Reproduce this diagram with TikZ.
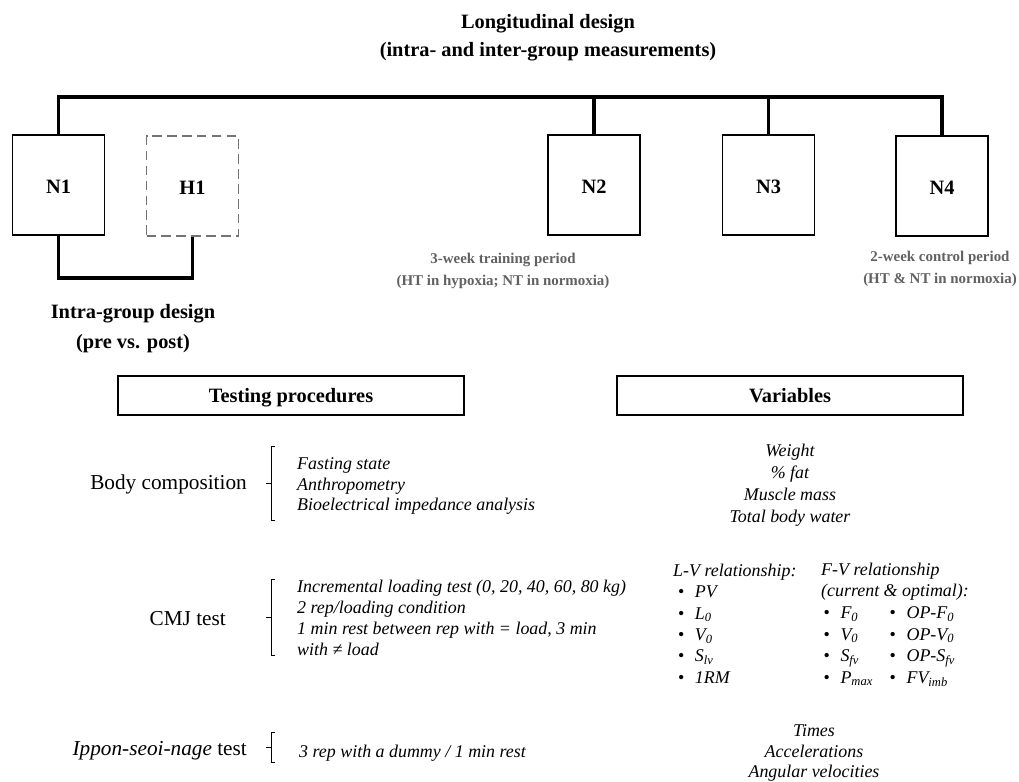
\documentclass[tikz,border=0pt]{standalone}
\usepackage{fontspec}
\setmainfont{Liberation Serif}
\usetikzlibrary{positioning}

\definecolor{notegray}{gray}{0.38}
\definecolor{dashgray}{gray}{0.45}

\newcommand{\vb}{\makebox[9.6pt][l]{\normalfont\textbullet}}
\newcommand{\fvrow}[2]{\hspace*{1.4pt}\vb\makebox[28pt][l]{#1}\vb #2}

\tikzset{
  grp/.style={draw, line width=0.6pt, minimum width=1.84cm, minimum height=2cm,
    text height=2.1ex, text depth=0pt, font=\bfseries\fontsize{11.6}{14}\selectfont},
  grpdash/.style={grp, draw=dashgray, line width=0.8pt, dash pattern=on 5.5pt off 3pt},
  link/.style={line width=2.2pt},
  headbox/.style={draw, line width=0.7pt, minimum width=6.92cm, minimum height=0.78cm,
    text height=2.3ex, text depth=0.5ex, font=\bfseries\fontsize{11.6}{14}\selectfont},
  bighead/.style={align=center, font=\bfseries\fontsize{11.6}{15.9}\selectfont},
  note/.style={align=center, text=notegray, font=\bfseries\fontsize{8.5}{12.4}\selectfont},
  testname/.style={anchor=east, font=\fontsize{12.1}{14}\selectfont},
  items/.style={anchor=west, align=left, font=\itshape\fontsize{10.2}{11.8}\selectfont},
  varlist/.style={align=center, font=\itshape\fontsize{10.2}{12.6}\selectfont},
  brk/.style={line width=0.5pt},
}

\begin{document}
\begin{tikzpicture}[x=0.02cm, y=-0.02cm]
  \useasboundingbox (0,0) rectangle (1019,782);

  % design
  \node[bighead] (title) at (548,38) {Longitudinal design\\(intra- and inter-group measurements)};
  \node[grp] (N1) at (58.5,185) {N1};
  \node[grpdash] (H1) at (192.5,186) {H1};
  \node[grp] (N2) at (594,185) {N2};
  \node[grp] (N3) at (768.5,185) {N3};
  \node[grp] (N4) at (942,186) {N4};

  \coordinate (bar) at (0,97);
  \coordinate (pp) at (0,278);
  \draw[link] (N1.north) |- (N4.north |- bar) -- (N4.north);
  \draw[link] (N2.north) -- (N2.north |- bar);
  \draw[link] (N3.north) -- (N3.north |- bar);
  \draw[link] (N1.south) -- (N1.south |- pp) -| (H1.south);

  \node[note] (train) at (503,271) {3-week training period\\(HT in hypoxia; NT in normoxia)};
  \node[note] (control) at (940,269) {2-week control period\\(HT \& NT in normoxia)};
  \node[bighead, font=\bfseries\fontsize{11.6}{17}\selectfont] (intra) at (133,329) {Intra-group design\\(pre vs. post)};

  % testing procedures
  \node[headbox] (tests) at (291,395.5) {Testing procedures};
  \node[headbox] (vars) at (790,395.5) {Variables};

  \node[testname] (body) at (253,484) {Body composition};
  \node[items] (bodyitems) at (291,486) {Fasting state\\Anthropometry\\Bioelectrical impedance analysis};
  \node[testname] (cmj) at (232,619) {CMJ test};
  \node[items, font=\itshape\fontsize{10.2}{11.9}\selectfont] (cmjitems) at (291,618) {Incremental loading test (0, 20, 40, 60, 80 kg)\\2 rep/loading condition\\1 min rest between rep with = load, 3 min\\with ≠ load};
  \node[testname] (ippon) at (253,751) {\textit{Ippon-seoi-nage} test};
  \node[items] (ipponitems) at (293,753) {3 rep with a dummy / 1 min rest};

  \foreach \t/\b/\m in {446/520/483, 579/655/617, 732/762/747}{
    \draw[brk] (275,\t) -- (271,\t) -- (271,\b) -- (275,\b);
    \draw[brk] (271,\m) -- (266,\m);
  }

  % variables
  \node[varlist] (bodyvars) at (790,485) {Weight\\\% fat\\Muscle mass\\Total body water};
  \node[items, font=\itshape\fontsize{10.2}{12.2}\selectfont] (lv) at (667,623.5) {L-V relationship:\\
    \hspace*{2.8pt}\vb PV\\
    \hspace*{2.8pt}\vb L\textsubscript{0}\\
    \hspace*{2.8pt}\vb V\textsubscript{0}\\
    \hspace*{2.8pt}\vb S\textsubscript{lv}\\
    \hspace*{2.8pt}\vb 1RM};
  \node[items, font=\itshape\fontsize{10.2}{12.3}\selectfont] (fv) at (815,624.5) {F-V relationship\\(current \& optimal):\\
    \fvrow{F\textsubscript{0}}{OP-F\textsubscript{0}}\\
    \fvrow{V\textsubscript{0}}{OP-V\textsubscript{0}}\\
    \fvrow{S\textsubscript{fv}}{OP-S\textsubscript{fv}}\\
    \fvrow{P\textsubscript{max}}{FV\textsubscript{imb}}};
  \node[varlist, font=\itshape\fontsize{10.2}{11.6}\selectfont] (ipponvars) at (814,753) {Times\\Accelerations\\Angular velocities};
\end{tikzpicture}
\end{document}
